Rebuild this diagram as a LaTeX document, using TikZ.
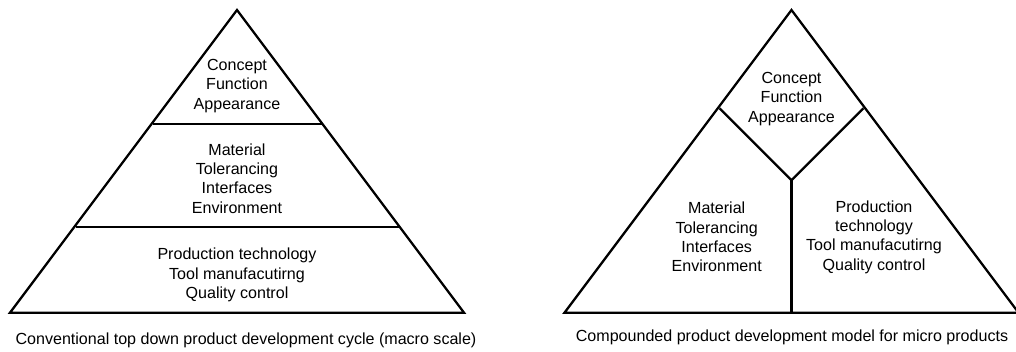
\documentclass[tikz,border=0pt]{standalone}
\usepackage{fontspec}
\setmainfont{Liberation Sans}
\begin{document}
\begin{tikzpicture}[x=0.75pt,y=-0.75pt,
  edge/.style={line width=1.7pt,line join=miter,black},
  lbl/.style={align=center,font=\fontsize{12.05pt}{14.5pt}\selectfont,inner sep=0pt},
  captext/.style={font=\fontsize{12.05pt}{14.5pt}\selectfont,inner sep=0pt}]
\useasboundingbox (0,0) rectangle (1016,352);
% left pyramid
\coordinate (LA) at (237,10);
\coordinate (LL) at (10,312.7);
\coordinate (LR) at (464,312.7);
\coordinate (L1a) at (152.5,124);
\coordinate (L1b) at (321.5,124);
\coordinate (L2a) at (75.5,227.3);
\coordinate (L2b) at (398.5,227.3);
\draw[edge] (LA) -- (LL) -- (LR) -- cycle;
\draw[edge] (L1a) -- (L1b);
\draw[edge] (L2a) -- (L2b);
\node[lbl] (lt) at (237,86) {Concept\\Function\\Appearance};
\node[lbl] (lm) at (237,178.5) {Material\\Tolerancing\\Interfaces\\Environment};
\node[lbl] (lb) at (237,275) {Production technology\\Tool manufacutirng\\Quality control};
\node[captext] (lc) at (246,340) {Conventional top down product development cycle (macro scale)};
% right pyramid
\coordinate (RA) at (791.5,10);
\coordinate (RL) at (564.5,312.7);
\coordinate (RR) at (1018.5,312.7);
\coordinate (DL) at (719.5,108.3);
\coordinate (DR) at (863.5,108.3);
\coordinate (DB) at (791.5,180.3);
\coordinate (DV) at (791.5,312.7);
\draw[edge] (RA) -- (RL) -- (RR) -- cycle;
\draw[edge] (DL) -- (DB) -- (DR);
\draw[edge] (DB) -- (DV);
\node[lbl] (rt) at (791.5,99) {Concept\\Function\\Appearance};
\node[lbl] (rm) at (716.7,237) {Material\\Tolerancing\\Interfaces\\Environment};
\node[lbl] (rr) at (874,237) {Production\\technology\\Tool manufacutirng\\Quality control};
\node[captext] (rc) at (792,337) {Compounded product development model for micro products};
\end{tikzpicture}
\end{document}
